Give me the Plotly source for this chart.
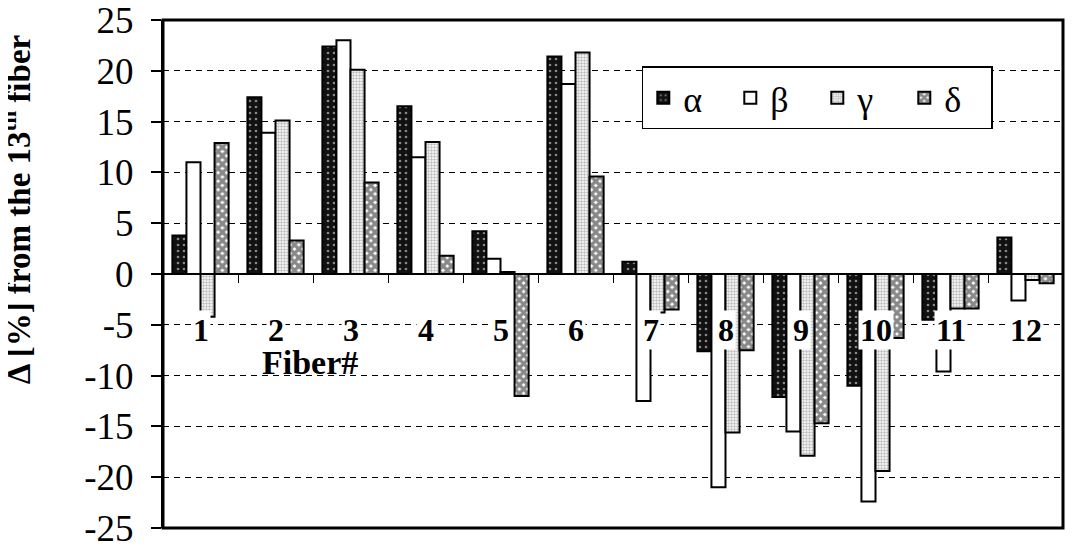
import plotly.graph_objects as go

fibers = [str(i) for i in range(1, 13)]
alpha = [3.8, 17.4, 22.4, 16.5, 4.2, 21.4, 1.2, -7.6, -12.1, -11.0, -4.5, 3.6]
beta = [11.0, 13.9, 23.0, 11.5, 1.5, 18.7, -12.5, -21.0, -15.5, -22.4, -9.6, -2.6]
gamma = [-4.2, 15.1, 20.1, 13.0, 0.2, 21.8, -3.8, -15.6, -17.9, -19.4, -3.4, -0.6]
delta = [12.9, 3.3, 9.0, 1.8, -12.0, 9.6, -3.5, -7.5, -14.7, -6.3, -3.4, -0.9]

yticks = list(range(-25, 30, 5))
serif = "Liberation Serif, Times New Roman, serif"

fig = go.Figure()
line = dict(color="black", width=2)
fig.add_trace(go.Bar(x=fibers, y=alpha, name="α",
                     marker=dict(color="#111", line=line,
                                 pattern=dict(shape=".", bgcolor="#111", fgcolor="white",
                                              size=6, solidity=0.15))))
fig.add_trace(go.Bar(x=fibers, y=beta, name="β",
                     marker=dict(color="white", line=line)))
fig.add_trace(go.Bar(x=fibers, y=gamma, name="γ",
                     marker=dict(color="white", line=line,
                                 pattern=dict(shape=".", bgcolor="white", fgcolor="#777",
                                              size=3, solidity=0.5))))
fig.add_trace(go.Bar(x=fibers, y=delta, name="δ",
                     marker=dict(color="white", line=line,
                                 pattern=dict(shape="x", bgcolor="white", fgcolor="#111",
                                              size=6, solidity=0.8))))

# category labels sit near the -5 grid line, masking what is behind them
for i, f in enumerate(fibers):
    fig.add_annotation(x=i, y=-5.5, text="<b>%s</b>" % f, showarrow=False,
                       xanchor="center", yanchor="middle",
                       font=dict(family=serif, size=32, color="black"),
                       bgcolor="white", borderpad=1)

fig.add_annotation(xref="paper", yref="paper", x=0.163, y=0.325, text="<b>Fiber#</b>",
                   xanchor="center", yanchor="middle",
                   showarrow=False, font=dict(family=serif, size=34, color="black"))

fig.add_annotation(xref="paper", yref="paper", x=-0.163, y=0.626,
                   xanchor="center", yanchor="middle",
                   text="<b>Δ [%] from the 13<sup>th</sup> fiber</b>", textangle=-90,
                   showarrow=False, font=dict(family=serif, size=33, color="black"))

fig.add_shape(type="rect", xref="paper", yref="paper", x0=0, y0=0, x1=1, y1=1,
              line=dict(color="black", width=3), layer="above")

# page body adds an 8px offset, so the figure is sized to fit inside the window
fig.update_layout(
    width=1078, height=551,
    margin=dict(l=155, r=23, t=12, b=31),
    paper_bgcolor="white", plot_bgcolor="white",
    barmode="group", bargap=0.25, bargroupgap=0,
    font=dict(family=serif, color="black"),
    showlegend=True,
    legend=dict(orientation="h", x=0.532, y=0.909, xanchor="left", yanchor="top",
                bordercolor="black", borderwidth=1.5, bgcolor="white",
                font=dict(family=serif, size=36), entrywidth=42),
    xaxis=dict(type="category", range=[-0.5, 11.5], anchor="free", position=0.5,
               showline=True, linecolor="black", linewidth=2, automargin=False,
               ticks="outside", tickson="boundaries", ticklen=8, tickcolor="black",
               showticklabels=False, showgrid=False),
    yaxis=dict(range=[-25, 25], tickvals=yticks, ticktext=[str(v) for v in yticks],
               showline=True, linecolor="black", linewidth=2, automargin=False,
               ticks="outside", ticklen=10, tickcolor="black", tickwidth=1.5,
               ticklabelstandoff=10, ticklabeloverflow="allow",
               tickfont=dict(family=serif, size=37, color="black"),
               showgrid=True, gridcolor="black", gridwidth=1.2, griddash="6px,5px",
               zeroline=False),
)

fig.write_html("out.html")
